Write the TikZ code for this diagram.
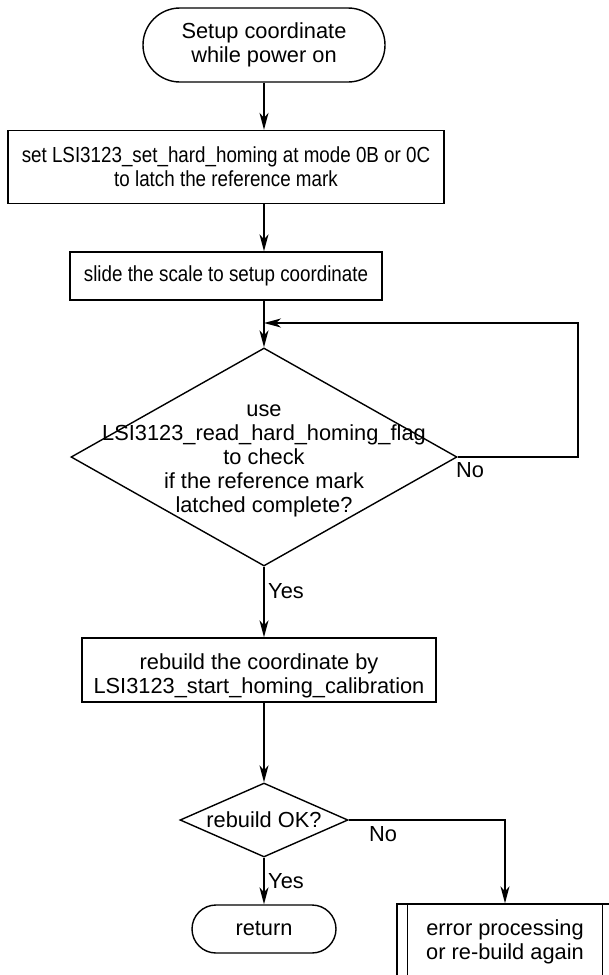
\documentclass[tikz,border=0pt]{standalone}
\usepackage{fontspec}
\setmainfont{Liberation Sans}
\newfontfamily\narrowfont{Liberation Sans}[FakeStretch=0.862]
\usetikzlibrary{shapes.geometric,shapes.misc,arrows.meta}

\tikzset{
  every node/.style={font=\fontsize{21.8pt}{24pt}\selectfont, align=center},
  smalltext/.style={font=\narrowfont\fontsize{21.8pt}{24pt}\selectfont},
  flowline/.style={line width=1.4pt, line join=miter},
  arr/.style={flowline, -{Stealth[length=17pt,width=9pt,inset=5pt]}},
  terminal/.style={draw, line width=1.4pt, rounded rectangle, fill=white, inner sep=0pt},
  stepbox/.style={draw, line width=1.4pt, rectangle, fill=white, inner sep=0pt},
  decision/.style={draw, line width=1.4pt, diamond, fill=white, inner sep=0pt},
  tag/.style={inner sep=0pt, anchor=west}
}

\begin{document}
\begin{tikzpicture}[x=1pt, y=-1pt]
  \clip (0,0) rectangle (609,975);
  \fill[white] (0,0) rectangle (609,975);

  % process nodes
  \node[terminal, minimum width=242pt, minimum height=74pt] (start) at (264,45)
    {Setup coordinate\\while power on};
  \node[stepbox, smalltext, minimum width=436pt, minimum height=73pt] (b1) at (226,167)
    {set LSI3123\_set\_hard\_homing at mode 0B or 0C\\to latch the reference mark};
  \node[stepbox, smalltext, minimum width=312pt, minimum height=48pt] (b2) at (226,276)
    {slide the scale to setup coordinate};
  \node[decision, minimum width=386pt, minimum height=218pt,
        label={[name=d1text, align=center, yshift=-4pt]center:use\\LSI3123\_read\_hard\_homing\_flag\\to check\\if the reference mark\\latched complete?}]
    (d1) at (264,457) {};
  \node[stepbox, minimum width=354pt, minimum height=64pt,
        label={[name=b3text, align=center, yshift=-6pt]center:rebuild the coordinate by\\LSI3123\_start\_homing\_calibration}]
    (b3) at (259,670) {};
  \node[decision, minimum width=168pt, minimum height=74pt,
        label={[name=d2text]center:rebuild OK?}]
    (d2) at (264,820) {};
  \node[terminal, minimum width=144pt, minimum height=48pt] (ret) at (264,929)
    {return};
  \node[stepbox, minimum width=216pt, minimum height=76pt] (b4) at (505,942)
    {error processing\\or re-build again};
  \draw[flowline] ([xshift=11pt]b4.north west) -- ([xshift=11pt]b4.south west)
                  ([xshift=-11pt]b4.north east) -- ([xshift=-11pt]b4.south east);

  % loop-back junction
  \coordinate (join) at (264,323);
  \coordinate (loopc) at (578,323);

  % connectors
  \draw[arr] (start.south) -- (start.south |- b1.north);
  \draw[arr] (start.south |- b1.south) -- (start.south |- b2.north);
  \draw[arr] (start.south |- b2.south) -- (d1.north);
  \draw[arr] (d1.east) -| (loopc) -- (join);
  \draw[arr] (d1.south) -- (d1.south |- b3.north);
  \draw[arr] (d1.south |- b3.south) -- (d2.north);
  \draw[arr] (d2.south) -- (ret.north);
  \draw[arr] (d2.east) -| (b4.north);

  % branch labels
  \node[tag] (no1) at (456,470) {No};
  \node[tag] (yes1) at (268,591) {Yes};
  \node[tag] (no2) at (369,834) {No};
  \node[tag] (yes2) at (268,881) {Yes};
\end{tikzpicture}
\end{document}
